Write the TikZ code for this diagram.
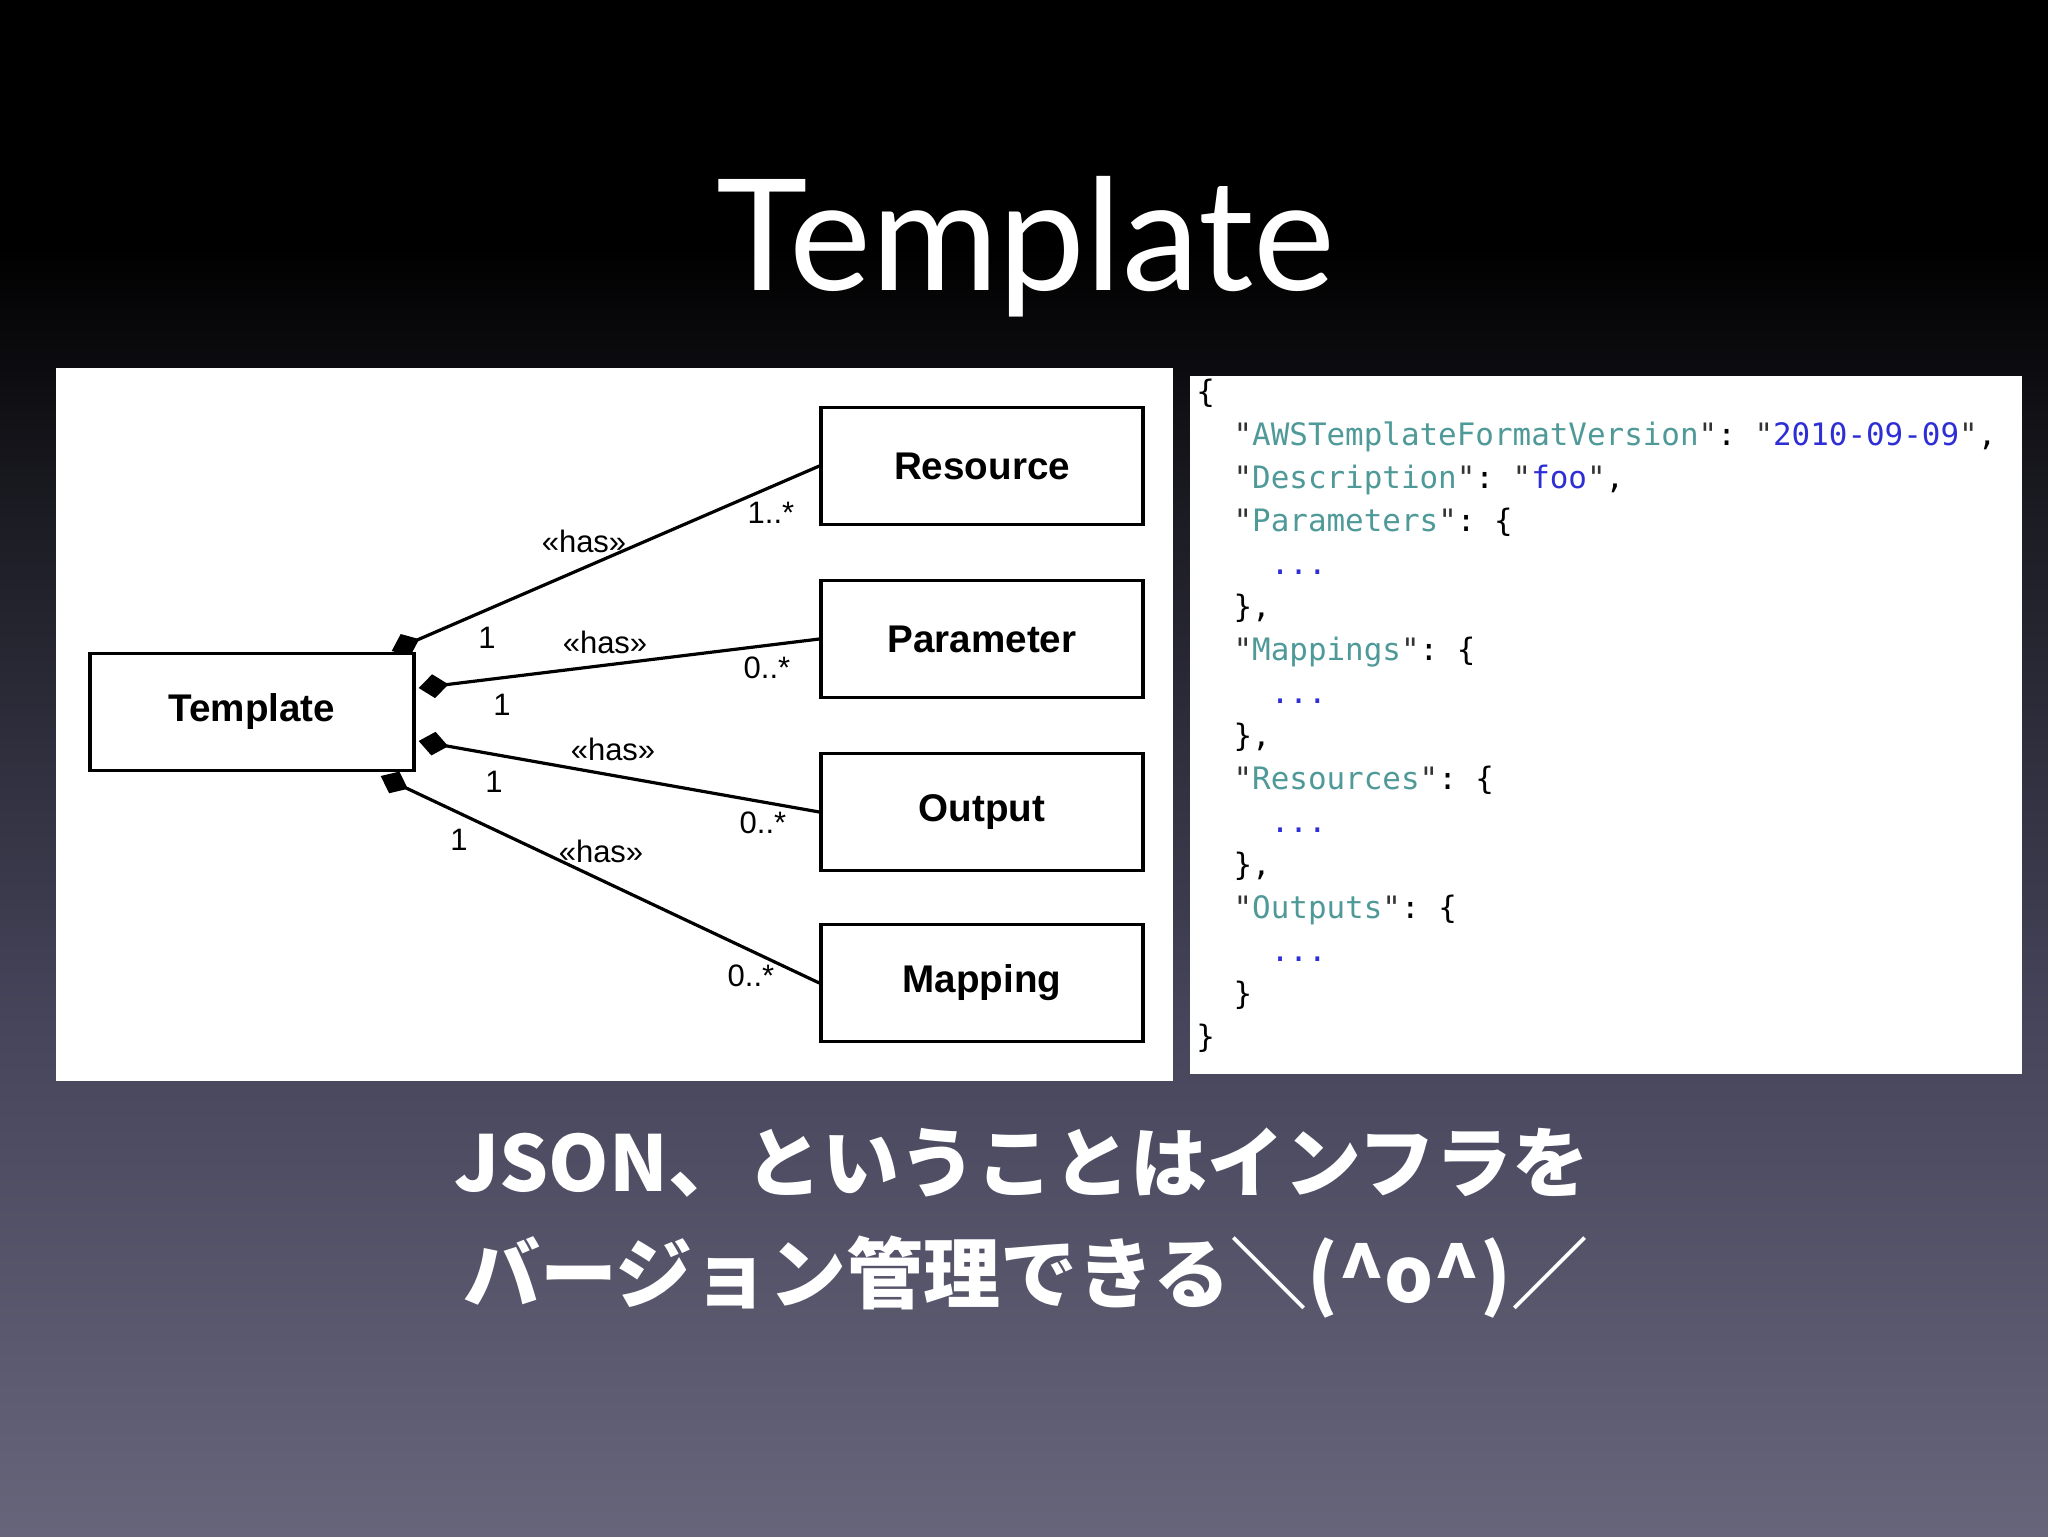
\documentclass[tikz,border=0pt]{standalone}
\usepackage{fontspec}
\setmainfont{Liberation Sans}
\setmonofont{DejaVu Sans Mono}
\newfontfamily\titlefont{Lato}
\newfontfamily\cjk{Noto Sans CJK JP}
\usetikzlibrary{arrows.meta}
\definecolor{keyc}{HTML}{4F9A98}
\definecolor{valc}{HTML}{2E2ED6}
\definecolor{qc}{HTML}{333333}
\definecolor{bgA}{HTML}{67657A}
\definecolor{bgB}{HTML}{45445A}
\definecolor{bgC}{HTML}{1C1C24}
\pgfdeclareverticalshading{slidebg}{100bp}{color(0bp)=(bgA); color(25bp)=(bgA); color(42bp)=(bgB); color(58bp)=(bgC); color(67bp)=(black); color(100bp)=(black)}
\newcommand\jq{\textcolor{qc}{"}}
\newcommand\jk[1]{\jq\textcolor{keyc}{#1}\jq}
\newcommand\jv[1]{\jq\textcolor{valc}{#1}\jq}
\newcommand\jd{\textcolor{valc}{...}}
\tikzset{
  cls/.style={draw=black, line width=1.7pt, fill=white, minimum width=161pt, minimum height=58.75pt, inner sep=0pt, font=\fontsize{19.3}{22}\selectfont\bfseries},
  comp/.style={line width=1.6pt, {Diamond[length=15pt,width=12pt]}-},
  lbl/.style={font=\fontsize{15.5}{18}\selectfont, inner sep=0pt},
  code/.style={font=\ttfamily\fontsize{15.45}{18}\selectfont, anchor=base west, inner sep=0pt},
  jp/.style={font=\cjk\bfseries\fontsize{38.5}{46}\selectfont, text=white, inner sep=0pt},
}
\begin{document}
\begin{tikzpicture}[x=0.5pt, y=-0.5pt]
\useasboundingbox (0,0) rectangle (2048,1536);
\shade[shading=slidebg] (0,0) rectangle (2048,1536);
% title
\node[font=\titlefont\fontsize{77.5}{90}\selectfont, text=white, anchor=base, inner sep=0pt] (title) at (1026,290) {Template};
% panels
\fill[white] (56,368) rectangle (1173,1081);
\fill[white] (1190,376) rectangle (2022,1074);
% class boxes on the right
\node[cls] (res) at (982,466) {Resource};
\node[cls] (par) at (982,639) {Parameter};
\node[cls] (out) at (982,812) {Output};
\node[cls] (map) at (982,983) {Mapping};
% template node position (anchors only)
\node[cls, minimum width=162pt, minimum height=58.3pt, draw=none, fill=none] (tplpos) at (252,712) {};
% composition connectors
\draw[comp] ([shift={(-24,-1)}]tplpos.north east) -- (res.west);
\draw[comp] ([shift={(3,36)}]tplpos.north east) -- (par.west);
\draw[comp] ([shift={(3,89)}]tplpos.north east) -- (out.west);
\draw[comp] ([shift={(-35,4)}]tplpos.south east) -- (map.west);
% template box on top
\node[cls, minimum width=162pt, minimum height=58.3pt] (tpl) at (252,712) {Template};
% labels
\node[lbl] (hR) at (584,541) {«has»};
\node[lbl] (mR) at (771,513) {1..*};
\node[lbl] (oR) at (487,638) {1};
\node[lbl] (hP) at (605,642) {«has»};
\node[lbl] (mP) at (767,668) {0..*};
\node[lbl] (oP) at (502,705) {1};
\node[lbl] (hO) at (613,749) {«has»};
\node[lbl] (mO) at (763,823) {0..*};
\node[lbl] (oO) at (494,782) {1};
\node[lbl] (hM) at (601,851) {«has»};
\node[lbl] (mM) at (751,976) {0..*};
\node[lbl] (oM) at (459,840) {1};
% JSON code
\node[code] (c0) at (1196,402) {\{};
\node[code] (c1) at (1233.2,445) {\jk{AWSTemplateFormatVersion}: \jv{2010-09-09},};
\node[code] (c2) at (1233.2,488) {\jk{Description}: \jv{foo},};
\node[code] (c3) at (1233.2,531) {\jk{Parameters}: \{};
\node[code] (c4) at (1270.4,574) {\jd};
\node[code] (c5) at (1233.2,617) {\},};
\node[code] (c6) at (1233.2,660) {\jk{Mappings}: \{};
\node[code] (c7) at (1270.4,703) {\jd};
\node[code] (c8) at (1233.2,746) {\},};
\node[code] (c9) at (1233.2,789) {\jk{Resources}: \{};
\node[code] (c10) at (1270.4,832) {\jd};
\node[code] (c11) at (1233.2,875) {\},};
\node[code] (c12) at (1233.2,918) {\jk{Outputs}: \{};
\node[code] (c13) at (1270.4,961) {\jd};
\node[code] (c14) at (1233.2,1004) {\}};
\node[code] (c15) at (1196,1047) {\}};
% bottom text
\node[jp] (l1) at (1022,1163) {JSON、ということはインフラを};
\node[jp] (l2) at (1026,1277) {バージョン管理できる＼(\^{}o\^{})／};
\end{tikzpicture}
\end{document}
